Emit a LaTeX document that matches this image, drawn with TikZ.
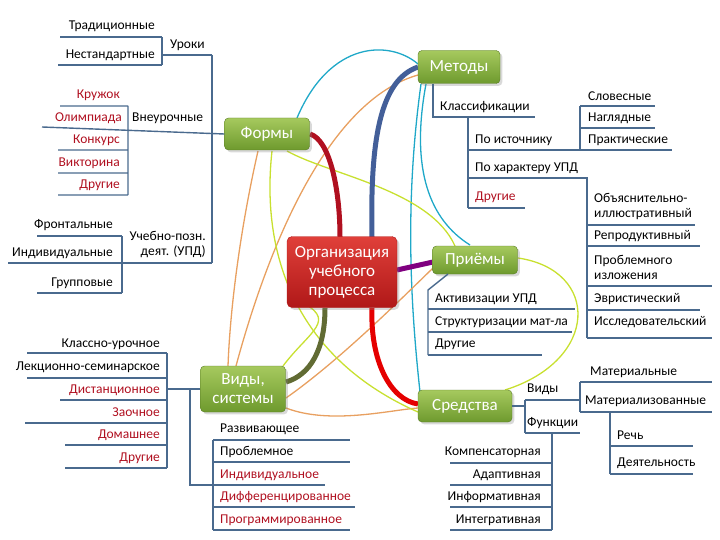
\documentclass[tikz,border=0pt]{standalone}
\usepackage{fontspec}
\setmainfont{Carlito}
\usetikzlibrary{shadows}
\definecolor{ln}{HTML}{4A6A8E}
\definecolor{rt}{HTML}{B01020}
\definecolor{gtop}{HTML}{A6C95E}
\definecolor{gbot}{HTML}{6E9A2E}
\definecolor{rtop}{HTML}{E0403A}
\definecolor{rbot}{HTML}{B01818}
\definecolor{cy}{HTML}{1FA8C8}
\definecolor{og}{HTML}{E8A060}
\definecolor{yg}{HTML}{C8E030}
\begin{document}
\begin{tikzpicture}[x=1pt,y=-1pt,
 t/.style={font=\fontsize{13.5}{15}\selectfont,inner sep=0pt,anchor=west},
 te/.style={t,anchor=east},
 r/.style={text=rt},
 u/.style={draw=ln,line width=1.4pt},
 gb/.style={rounded corners=4pt,top color=gtop,bottom color=gbot,draw=gbot!80!black,text=white,font=\fontsize{17}{19}\selectfont,drop shadow={opacity=0.3},align=center,inner sep=0pt},
 rb/.style={rounded corners=5pt,top color=rtop,bottom color=rbot,draw=rbot,text=white,font=\fontsize{17}{19}\selectfont,drop shadow={opacity=0.3},align=center,inner sep=0pt},
 thin/.style={line width=1.3pt}]
\useasboundingbox (0,0) rectangle (720,540);
\path (267,134) coordinate (formy) (459,67) coordinate (metody) (475,260) coordinate (priemy) (243,389) coordinate (vidy) (465,406) coordinate (sredstva) (342,272) coordinate (org);
% thin cross links
\draw[cy,thin] (297,118) .. controls (330,40) and (390,40) .. (418,64);
\draw[cy,thin] (421,84) .. controls (405,200) and (410,300) .. (420,392);
\draw[cy,thin] (426,84) .. controls (410,170) and (430,220) .. (470,245);
\draw[og,thin] (258,151) .. controls (240,230) and (230,310) .. (228,366);
\draw[og,thin] (236,366) .. controls (270,240) and (330,100) .. (418,75);
\draw[og,thin] (286,398) .. controls (340,360) and (400,300) .. (433,268);
\draw[og,thin] (286,408) .. controls (330,425) and (390,410) .. (418,408);
\draw[yg,thin] (287,151) .. controls (330,175) and (430,190) .. (455,246);
\draw[yg,thin] (272,151) .. controls (260,260) and (300,360) .. (418,412);
\draw[yg,thin] (518,258) .. controls (600,270) and (600,360) .. (505,390);
\draw[yg,thin] (283,366) .. controls (310,330) and (340,320) .. (297,300);
% thick links
\draw[rt,line width=5pt] (310,134) .. controls (330,140) and (340,190) .. (340,237);
\draw[ln!90!blue,line width=5pt] (372,237) .. controls (370,140) and (380,80) .. (418,67);
\draw[violet,line width=5pt] (397,270) -- (433,262);
\draw[red!90!black,line width=5pt] (372,308) .. controls (370,360) and (390,400) .. (418,404);
\draw[olive!70!green!60!black,line width=5pt] (325,308) .. controls (325,350) and (310,375) .. (286,382);
% boxes
\node[gb,minimum width=85pt,minimum height=32pt] (nformy) at (formy) {Формы};
\node[gb,minimum width=82pt,minimum height=33pt] (nmetody) at (metody) {Методы};
\node[rb,minimum width=110pt,minimum height=71pt] (norg) at (org) {Организация\\учебного\\процесса};
\node[gb,minimum width=85pt,minimum height=28pt] (npriemy) at (priemy) {Приёмы};
\node[gb,minimum width=85pt,minimum height=46pt] (nvidy) at (vidy) {Виды,\\системы};
\node[gb,minimum width=94pt,minimum height=32pt] (nsredstva) at (sredstva) {Средства};
% ===== Формы tree
\node[te] (trad) at (155,26) {Традиционные};
\node[te] (nest) at (155,55) {Нестандартные};
\node[t] (uroki) at (170,45) {Уроки};
\draw[u] (60,37)--(162,37) (58,65)--(162,65) (162,37)--(162,65) (162,55)--(212,55) (212,55)--(212,263);
\node[te,r] (kr) at (120,95) {Кружок};
\node[te,r] (ol) at (122,118) {Олимпиада};
\node[t] (vne) at (132,118) {Внеурочные};
\node[te,r] (kon) at (120,140) {Конкурс};
\node[te,r] (vik) at (120,163) {Викторина};
\node[te,r] (dr1) at (120,185) {Другие};
\draw[u] (60,106)--(128,106) (42,127)--(nformy.west) (58,150)--(128,150) (58,173)--(128,173) (58,195)--(128,195) (128,106)--(128,195);
\node[te] (fr) at (113,225) {Фронтальные};
\node[te] (ind) at (113,253) {Индивидуальные};
\node[te] (gr) at (113,283) {Групповые};
\node[t,align=right,anchor=east] (upd) at (206,245) {Учебно-позн.\\деят. (УПД)};
\draw[u] (37,236)--(122,236) (8,263)--(212,263) (37,293)--(122,293) (122,236)--(122,293);
% ===== Методы tree
\node[t] (klass) at (440,107) {Классификации};
\draw[u] (433,84)--(433,117)--(535,117) (468,117)--(468,208);
\node[t] (poist) at (475,140) {По источнику};
\node[t] (slov) at (588,96) {Словесные};
\node[t] (nagl) at (588,118) {Наглядные};
\node[t] (prak) at (588,140) {Практические};
\draw[u] (468,150)--(672,150) (580,106)--(655,106) (580,128)--(655,128) (580,106)--(580,150);
\node[t] (poh) at (475,168) {По характеру УПД};
\draw[u] (468,178)--(587,178)--(587,338);
\node[t,r] (dr2) at (475,197) {Другие};
\draw[u] (468,208)--(525,208);
\node[t,align=left] (obj) at (594,206) {Объяснительно-\\иллюстративный};
\node[t] (rep) at (594,236) {Репродуктивный};
\node[t,align=left] (prob) at (594,267) {Проблемного\\изложения};
\node[t] (evr) at (594,299) {Эвристический};
\node[t] (issl) at (594,322) {Исследовательский};
\draw[u] (587,225)--(695,225) (587,246)--(700,246) (587,286)--(712,286) (587,310)--(700,310) (587,338)--(712,338);
% ===== Приёмы tree
\draw[u] (448,274) -- (428,290) -- (428,355);
\node[t] (akt) at (435,299) {Активизации УПД};
\node[t] (str) at (435,322) {Структуризации мат-ла};
\node[t] (dr3) at (435,344) {Другие};
\draw[u] (428,309)--(575,309) (428,332)--(572,332) (428,355)--(542,355);
% ===== Средства tree
\draw[u] (nsredstva.east)--(525,406) (525,400)--(525,433) (525,400)--(580,400) (525,433)--(580,433);
\node[t] (vid2) at (527,389) {Виды};
\node[t] (fun) at (527,423) {Функции};
\node[t] (mat) at (590,372) {Материальные};
\node[t] (matz) at (585,401) {Материализованные};
\draw[u] (580,382)--(712,382) (580,412)--(712,412) (580,382)--(580,412) (610,412)--(610,474);
\node[t] (rech) at (617,435) {Речь};
\node[t] (deya) at (617,463) {Деятельность};
\draw[u] (610,446)--(693,446) (610,474)--(693,474);
\draw[u] (552,433)--(552,530);
\node[te] (komp) at (541,452) {Компенсаторная};
\node[te] (adap) at (541,475) {Адаптивная};
\node[te] (info) at (541,497) {Информативная};
\node[te] (integ) at (541,520) {Интегративная};
\draw[u] (450,463)--(552,463) (450,485)--(552,485) (450,507)--(552,507) (450,530)--(552,530);
% ===== Виды tree
\draw[u] (nvidy.west)--(167,389) (167,353)--(167,468) (167,389)--(190,389)--(190,485)--(213,485) (213,440)--(213,530);
\node[te] (kl) at (160,344) {Классно-урочное};
\node[te] (lek) at (160,367) {Лекционно-семинарское};
\node[te,r] (dist) at (160,390) {Дистанционное};
\node[te,r] (zao) at (160,412) {Заочное};
\node[te,r] (dom) at (160,435) {Домашнее};
\node[te,r] (dr4) at (160,458) {Другие};
\draw[u] (27,353)--(167,353) (27,378)--(167,378) (60,400)--(167,400) (25,423)--(167,423) (65,445)--(167,445) (65,468)--(167,468);
\node[t] (razv) at (220,429) {Развивающее};
\node[t] (probl) at (220,452) {Проблемное};
\node[t,r] (indiv) at (220,475) {Индивидуальное};
\node[t,r] (diff) at (220,497) {Дифференцированное};
\node[t,r] (prog) at (220,520) {Программированное};
\draw[u] (213,440)--(350,440) (213,462)--(350,462) (213,485)--(325,485) (213,507)--(355,507) (213,530)--(350,530);
\end{tikzpicture}
\end{document}
